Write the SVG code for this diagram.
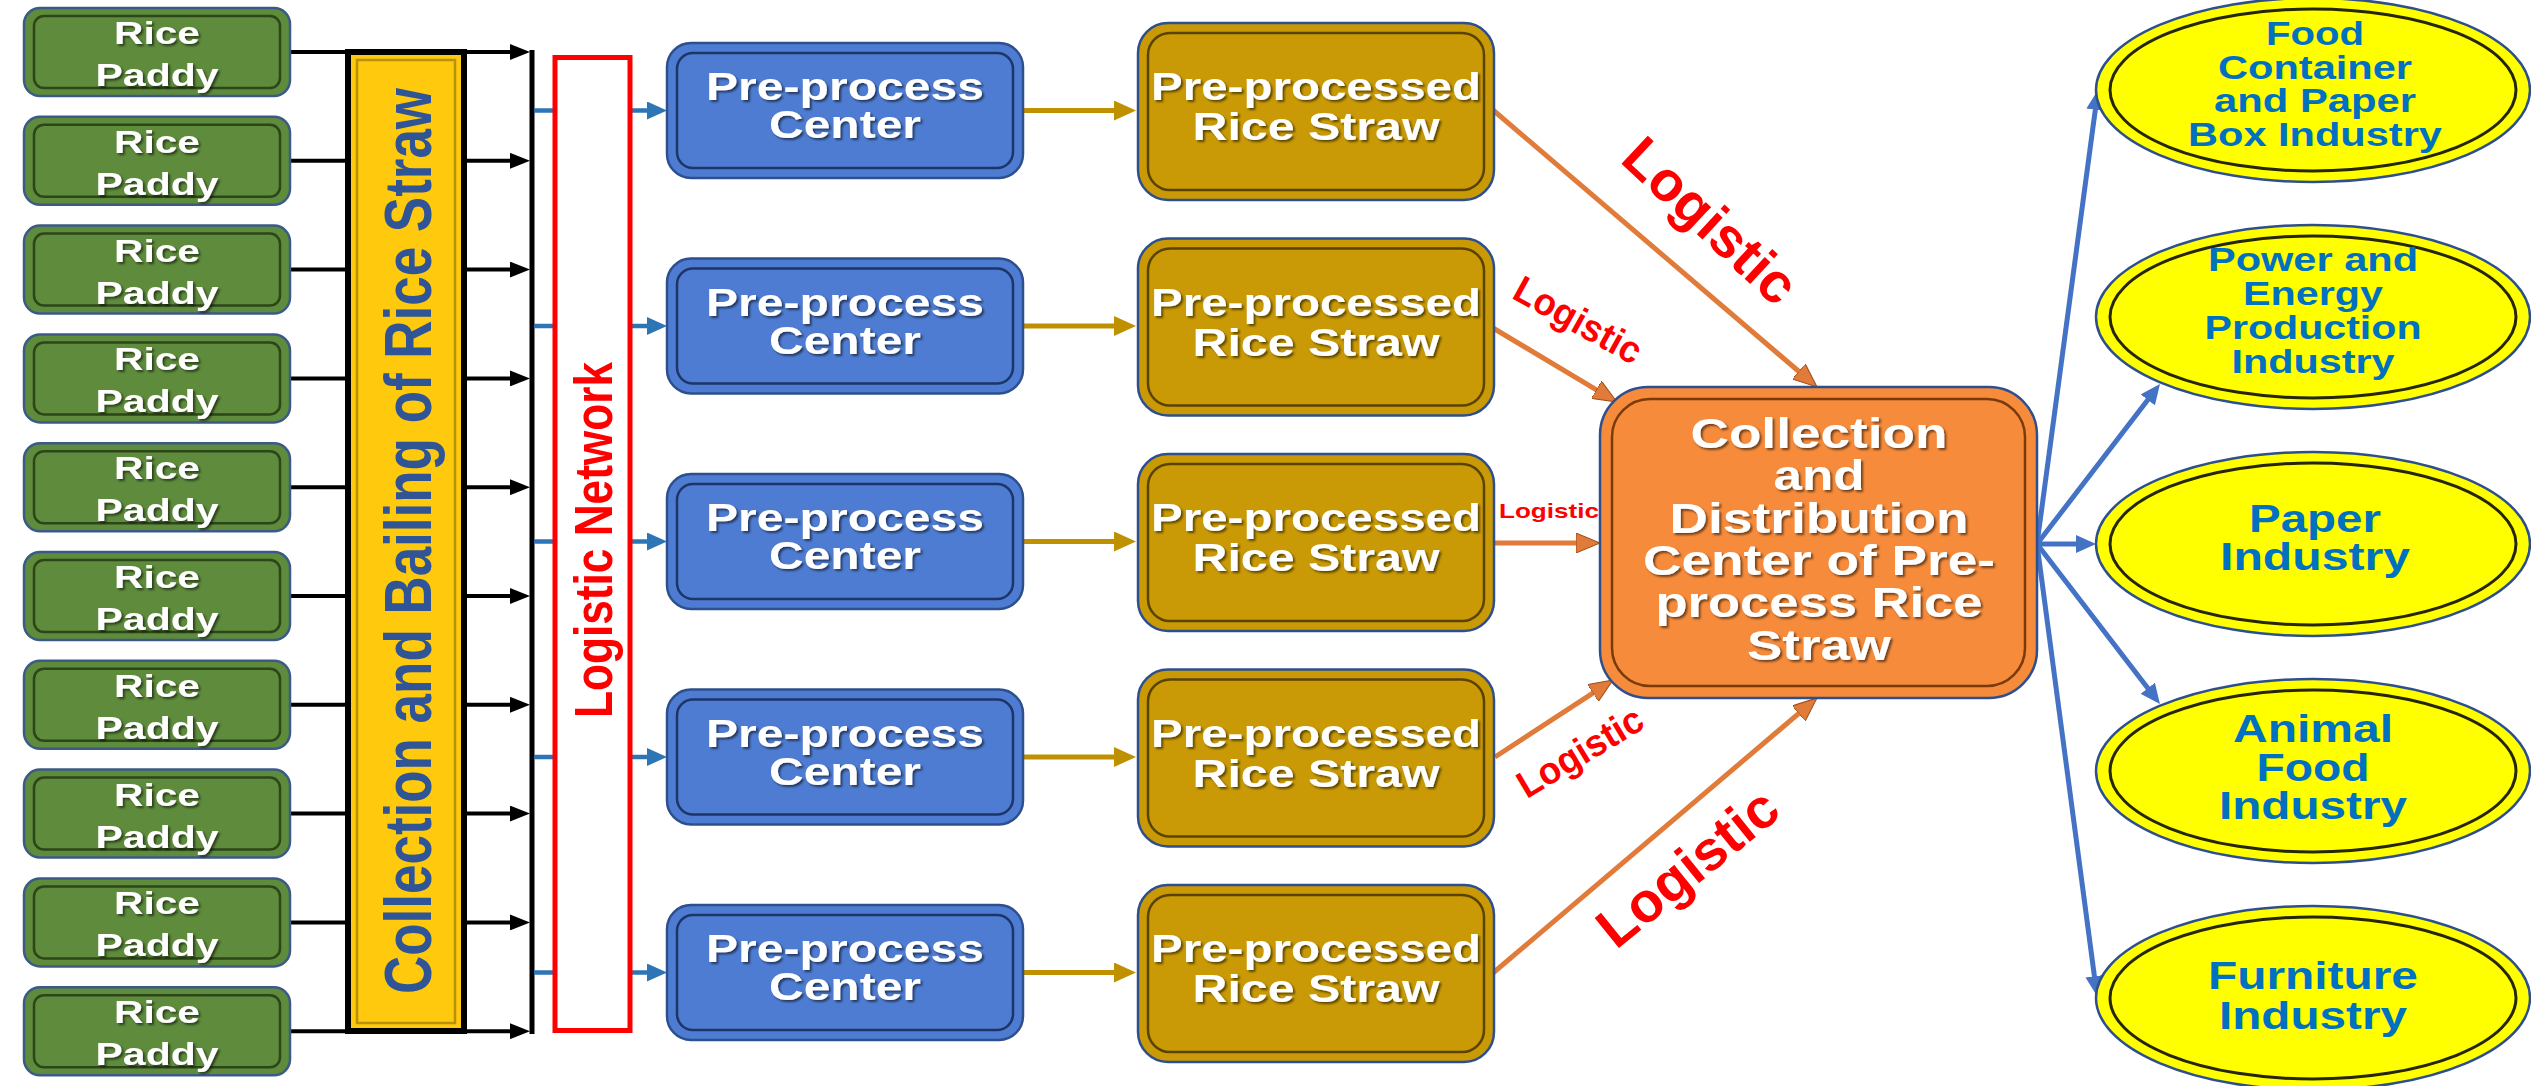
<svg xmlns="http://www.w3.org/2000/svg" width="2531" height="1086" viewBox="0 0 2531 1086">
<defs>
<style>
text{font-family:"Liberation Sans",Arial,sans-serif;font-weight:bold;text-anchor:middle}
.wt{fill:#fff;filter:url(#sh)}
.rp{fill:#5E8B3C;stroke:#3C5A88;stroke-width:2.5}
.rpi{fill:none;stroke:#2C4619;stroke-width:2.5}
.pc{fill:#4E7CD2;stroke:#2D4F8E;stroke-width:2.5}
.pci{fill:none;stroke:#1E3568;stroke-width:2.5}
.ps{fill:#C99A06;stroke:#2D4F8E;stroke-width:2.5}
.psi{fill:none;stroke:#5A4300;stroke-width:2.5}
.oc{fill:#F68B3B;stroke:#2D4F8E;stroke-width:2.5}
.oci{fill:none;stroke:#7A3A0A;stroke-width:2.5}
.el{fill:#FFFF00;stroke:#2D4F8E;stroke-width:2.5}
.eli{fill:none;stroke:#262600;stroke-width:3}
.elt{fill:#0070C0}
.lg{fill:#FF0000}
.blk{stroke:#000;stroke-width:4;fill:none}
.bl1{stroke:#2E75B6;stroke-width:4.5;fill:none}
.gd{stroke:#BF9000;stroke-width:5;fill:none}
.or{stroke:#E07B39;stroke-width:5;fill:none}
.bl2{stroke:#4472C4;stroke-width:5;fill:none}
</style>
<filter id="sh" x="-10%" y="-30%" width="125%" height="160%"><feDropShadow dx="2" dy="2" stdDeviation="1.2" flood-color="#000" flood-opacity="0.55"/></filter>
<marker id="mBlk" markerUnits="userSpaceOnUse" markerWidth="20" markerHeight="16" refX="3" refY="8" orient="auto"><path d="M0,0 L20,8 L0,16 z" fill="#000"/></marker>
<marker id="mBl1" markerUnits="userSpaceOnUse" markerWidth="20" markerHeight="18" refX="3" refY="9" orient="auto"><path d="M0,0 L20,9 L0,18 z" fill="#2E75B6"/></marker>
<marker id="mGd" markerUnits="userSpaceOnUse" markerWidth="22" markerHeight="20" refX="4" refY="10" orient="auto"><path d="M0,0 L22,10 L0,20 z" fill="#BF9000"/></marker>
<marker id="mOr" markerUnits="userSpaceOnUse" markerWidth="24" markerHeight="20" refX="4" refY="10" orient="auto"><path d="M0,0 L24,10 L0,20 z" fill="#E07B39" stroke="#9A4C1A" stroke-width="1"/></marker>
<marker id="mBl2" markerUnits="userSpaceOnUse" markerWidth="20" markerHeight="18" refX="3" refY="9" orient="auto"><path d="M0,0 L20,9 L0,18 z" fill="#4472C4"/></marker>
</defs>
<rect width="2531" height="1086" fill="#fff"/>

<g id="connectors">
<g id="paddy-links">
<path class="blk" d="M290,52H348M290,160.8H348M290,269.6H348M290,378.4H348M290,487.2H348M290,596H348M290,704.8H348M290,813.6H348M290,922.4H348M290,1031.2H348"/>
<line class="blk" x1="464" y1="52" x2="513" y2="52" marker-end="url(#mBlk)"/>
<line class="blk" x1="464" y1="160.8" x2="513" y2="160.8" marker-end="url(#mBlk)"/>
<line class="blk" x1="464" y1="269.6" x2="513" y2="269.6" marker-end="url(#mBlk)"/>
<line class="blk" x1="464" y1="378.4" x2="513" y2="378.4" marker-end="url(#mBlk)"/>
<line class="blk" x1="464" y1="487.2" x2="513" y2="487.2" marker-end="url(#mBlk)"/>
<line class="blk" x1="464" y1="596" x2="513" y2="596" marker-end="url(#mBlk)"/>
<line class="blk" x1="464" y1="704.8" x2="513" y2="704.8" marker-end="url(#mBlk)"/>
<line class="blk" x1="464" y1="813.6" x2="513" y2="813.6" marker-end="url(#mBlk)"/>
<line class="blk" x1="464" y1="922.4" x2="513" y2="922.4" marker-end="url(#mBlk)"/>
<line class="blk" x1="464" y1="1031.2" x2="513" y2="1031.2" marker-end="url(#mBlk)"/>
<line x1="532" y1="50" x2="532" y2="1034" stroke="#000" stroke-width="5"/>
</g>
<g id="network-links">
<path class="bl1" d="M534,110.5H556M534,326H556M534,541.5H556M534,757H556M534,972.5H556"/>
<line class="bl1" x1="630" y1="110.5" x2="650" y2="110.5" marker-end="url(#mBl1)"/>
<line class="bl1" x1="630" y1="326" x2="650" y2="326" marker-end="url(#mBl1)"/>
<line class="bl1" x1="630" y1="541.5" x2="650" y2="541.5" marker-end="url(#mBl1)"/>
<line class="bl1" x1="630" y1="757" x2="650" y2="757" marker-end="url(#mBl1)"/>
<line class="bl1" x1="630" y1="972.5" x2="650" y2="972.5" marker-end="url(#mBl1)"/>
</g>
<g id="center-links">
<line class="gd" x1="1023" y1="110.5" x2="1118" y2="110.5" marker-end="url(#mGd)"/>
<line class="gd" x1="1023" y1="326" x2="1118" y2="326" marker-end="url(#mGd)"/>
<line class="gd" x1="1023" y1="541.5" x2="1118" y2="541.5" marker-end="url(#mGd)"/>
<line class="gd" x1="1023" y1="757" x2="1118" y2="757" marker-end="url(#mGd)"/>
<line class="gd" x1="1023" y1="972.5" x2="1118" y2="972.5" marker-end="url(#mGd)"/>
</g>
<g id="logistic-links">
<line class="or" x1="1493" y1="110" x2="1801.8" y2="374" marker-end="url(#mOr)"/>
<line class="or" x1="1493" y1="328" x2="1599.8" y2="391.8" marker-end="url(#mOr)"/>
<line class="or" x1="1494" y1="543" x2="1580" y2="543" marker-end="url(#mOr)"/>
<line class="or" x1="1495" y1="757" x2="1596.3" y2="690.9" marker-end="url(#mOr)"/>
<line class="or" x1="1493" y1="973" x2="1801.8" y2="710.9" marker-end="url(#mOr)"/>
<text class="lg" transform="translate(1711,220) rotate(43)" y="20" font-size="56" textLength="215" lengthAdjust="spacingAndGlyphs">Logistic</text>
<text class="lg" transform="translate(1578,320) rotate(29)" y="13" font-size="38" textLength="140" lengthAdjust="spacingAndGlyphs">Logistic</text>
<text class="lg" x="1549" y="518" font-size="21" textLength="100" lengthAdjust="spacingAndGlyphs">Logistic</text>
<text class="lg" transform="translate(1580,752) rotate(-31)" y="13" font-size="38" textLength="140" lengthAdjust="spacingAndGlyphs">Logistic</text>
<text class="lg" transform="translate(1687,867) rotate(-39)" y="20" font-size="56" textLength="215" lengthAdjust="spacingAndGlyphs">Logistic</text>
</g>
<g id="industry-links">
<line class="bl2" x1="2037" y1="544" x2="2095.7" y2="106.8" marker-end="url(#mBl2)"/>
<line class="bl2" x1="2037" y1="544" x2="2149.6" y2="397.5" marker-end="url(#mBl2)"/>
<line class="bl2" x1="2037" y1="544" x2="2079" y2="544" marker-end="url(#mBl2)"/>
<line class="bl2" x1="2037" y1="544" x2="2149.6" y2="690.6" marker-end="url(#mBl2)"/>
<line class="bl2" x1="2037" y1="544" x2="2094.8" y2="979.2" marker-end="url(#mBl2)"/>
</g>
</g>

<g id="rice-paddy-1"><rect class="rp" x="24" y="8" width="266" height="88" rx="16"/><rect class="rpi" x="34" y="16" width="246" height="72" rx="10"/><text class="wt" x="157" y="44" font-size="31" textLength="86" lengthAdjust="spacingAndGlyphs">Rice</text><text class="wt" x="157" y="86" font-size="31" textLength="123" lengthAdjust="spacingAndGlyphs">Paddy</text></g>
<g id="rice-paddy-2"><rect class="rp" x="24" y="116.8" width="266" height="88" rx="16"/><rect class="rpi" x="34" y="124.8" width="246" height="72" rx="10"/><text class="wt" x="157" y="152.8" font-size="31" textLength="86" lengthAdjust="spacingAndGlyphs">Rice</text><text class="wt" x="157" y="194.8" font-size="31" textLength="123" lengthAdjust="spacingAndGlyphs">Paddy</text></g>
<g id="rice-paddy-3"><rect class="rp" x="24" y="225.6" width="266" height="88" rx="16"/><rect class="rpi" x="34" y="233.6" width="246" height="72" rx="10"/><text class="wt" x="157" y="261.6" font-size="31" textLength="86" lengthAdjust="spacingAndGlyphs">Rice</text><text class="wt" x="157" y="303.6" font-size="31" textLength="123" lengthAdjust="spacingAndGlyphs">Paddy</text></g>
<g id="rice-paddy-4"><rect class="rp" x="24" y="334.4" width="266" height="88" rx="16"/><rect class="rpi" x="34" y="342.4" width="246" height="72" rx="10"/><text class="wt" x="157" y="370.4" font-size="31" textLength="86" lengthAdjust="spacingAndGlyphs">Rice</text><text class="wt" x="157" y="412.4" font-size="31" textLength="123" lengthAdjust="spacingAndGlyphs">Paddy</text></g>
<g id="rice-paddy-5"><rect class="rp" x="24" y="443.2" width="266" height="88" rx="16"/><rect class="rpi" x="34" y="451.2" width="246" height="72" rx="10"/><text class="wt" x="157" y="479.2" font-size="31" textLength="86" lengthAdjust="spacingAndGlyphs">Rice</text><text class="wt" x="157" y="521.2" font-size="31" textLength="123" lengthAdjust="spacingAndGlyphs">Paddy</text></g>
<g id="rice-paddy-6"><rect class="rp" x="24" y="552" width="266" height="88" rx="16"/><rect class="rpi" x="34" y="560" width="246" height="72" rx="10"/><text class="wt" x="157" y="588" font-size="31" textLength="86" lengthAdjust="spacingAndGlyphs">Rice</text><text class="wt" x="157" y="630" font-size="31" textLength="123" lengthAdjust="spacingAndGlyphs">Paddy</text></g>
<g id="rice-paddy-7"><rect class="rp" x="24" y="660.8" width="266" height="88" rx="16"/><rect class="rpi" x="34" y="668.8" width="246" height="72" rx="10"/><text class="wt" x="157" y="696.8" font-size="31" textLength="86" lengthAdjust="spacingAndGlyphs">Rice</text><text class="wt" x="157" y="738.8" font-size="31" textLength="123" lengthAdjust="spacingAndGlyphs">Paddy</text></g>
<g id="rice-paddy-8"><rect class="rp" x="24" y="769.6" width="266" height="88" rx="16"/><rect class="rpi" x="34" y="777.6" width="246" height="72" rx="10"/><text class="wt" x="157" y="805.6" font-size="31" textLength="86" lengthAdjust="spacingAndGlyphs">Rice</text><text class="wt" x="157" y="847.6" font-size="31" textLength="123" lengthAdjust="spacingAndGlyphs">Paddy</text></g>
<g id="rice-paddy-9"><rect class="rp" x="24" y="878.4" width="266" height="88" rx="16"/><rect class="rpi" x="34" y="886.4" width="246" height="72" rx="10"/><text class="wt" x="157" y="914.4" font-size="31" textLength="86" lengthAdjust="spacingAndGlyphs">Rice</text><text class="wt" x="157" y="956.4" font-size="31" textLength="123" lengthAdjust="spacingAndGlyphs">Paddy</text></g>
<g id="rice-paddy-10"><rect class="rp" x="24" y="987.2" width="266" height="88" rx="16"/><rect class="rpi" x="34" y="995.2" width="246" height="72" rx="10"/><text class="wt" x="157" y="1023.2" font-size="31" textLength="86" lengthAdjust="spacingAndGlyphs">Rice</text><text class="wt" x="157" y="1065.2" font-size="31" textLength="123" lengthAdjust="spacingAndGlyphs">Paddy</text></g>

<g id="collection-bailing">
<rect x="348" y="52" width="116" height="979" fill="#FFC90E" stroke="#000" stroke-width="6"/>
<rect x="357" y="60" width="98" height="963" fill="none" stroke="#B8900A" stroke-width="2.5"/>
<text transform="translate(431,541) rotate(-90) scale(1,1.245)" font-size="53" textLength="906" lengthAdjust="spacingAndGlyphs" fill="#2F5597">Collection and Bailing of Rice Straw</text>
</g>

<g id="logistic-network">
<rect x="555" y="57.5" width="75" height="973" fill="#fff" stroke="#FF0000" stroke-width="5"/>
<text class="lg" transform="translate(612,540) rotate(-90) scale(1,1.2)" font-size="44" textLength="356" lengthAdjust="spacingAndGlyphs">Logistic Network</text>
</g>

<g id="preprocess-center-1"><rect class="pc" x="667" y="43" width="356" height="135" rx="24"/><rect class="pci" x="677" y="53" width="336" height="115" rx="16"/><text class="wt" x="845" y="100" font-size="38" textLength="278" lengthAdjust="spacingAndGlyphs">Pre-process</text><text class="wt" x="845" y="138" font-size="38" textLength="152" lengthAdjust="spacingAndGlyphs">Center</text></g>
<g id="preprocess-center-2"><rect class="pc" x="667" y="258.5" width="356" height="135" rx="24"/><rect class="pci" x="677" y="268.5" width="336" height="115" rx="16"/><text class="wt" x="845" y="315.5" font-size="38" textLength="278" lengthAdjust="spacingAndGlyphs">Pre-process</text><text class="wt" x="845" y="353.5" font-size="38" textLength="152" lengthAdjust="spacingAndGlyphs">Center</text></g>
<g id="preprocess-center-3"><rect class="pc" x="667" y="474" width="356" height="135" rx="24"/><rect class="pci" x="677" y="484" width="336" height="115" rx="16"/><text class="wt" x="845" y="531" font-size="38" textLength="278" lengthAdjust="spacingAndGlyphs">Pre-process</text><text class="wt" x="845" y="569" font-size="38" textLength="152" lengthAdjust="spacingAndGlyphs">Center</text></g>
<g id="preprocess-center-4"><rect class="pc" x="667" y="689.5" width="356" height="135" rx="24"/><rect class="pci" x="677" y="699.5" width="336" height="115" rx="16"/><text class="wt" x="845" y="746.5" font-size="38" textLength="278" lengthAdjust="spacingAndGlyphs">Pre-process</text><text class="wt" x="845" y="784.5" font-size="38" textLength="152" lengthAdjust="spacingAndGlyphs">Center</text></g>
<g id="preprocess-center-5"><rect class="pc" x="667" y="905" width="356" height="135" rx="24"/><rect class="pci" x="677" y="915" width="336" height="115" rx="16"/><text class="wt" x="845" y="962" font-size="38" textLength="278" lengthAdjust="spacingAndGlyphs">Pre-process</text><text class="wt" x="845" y="1000" font-size="38" textLength="152" lengthAdjust="spacingAndGlyphs">Center</text></g>

<g id="preprocessed-straw-1"><rect class="ps" x="1138" y="23" width="356" height="177" rx="30"/><rect class="psi" x="1148" y="33" width="336" height="157" rx="22"/><text class="wt" x="1316" y="100" font-size="38" textLength="330" lengthAdjust="spacingAndGlyphs">Pre-processed</text><text class="wt" x="1316" y="140" font-size="38" textLength="247" lengthAdjust="spacingAndGlyphs">Rice Straw</text></g>
<g id="preprocessed-straw-2"><rect class="ps" x="1138" y="238.5" width="356" height="177" rx="30"/><rect class="psi" x="1148" y="248.5" width="336" height="157" rx="22"/><text class="wt" x="1316" y="315.5" font-size="38" textLength="330" lengthAdjust="spacingAndGlyphs">Pre-processed</text><text class="wt" x="1316" y="355.5" font-size="38" textLength="247" lengthAdjust="spacingAndGlyphs">Rice Straw</text></g>
<g id="preprocessed-straw-3"><rect class="ps" x="1138" y="454" width="356" height="177" rx="30"/><rect class="psi" x="1148" y="464" width="336" height="157" rx="22"/><text class="wt" x="1316" y="531" font-size="38" textLength="330" lengthAdjust="spacingAndGlyphs">Pre-processed</text><text class="wt" x="1316" y="571" font-size="38" textLength="247" lengthAdjust="spacingAndGlyphs">Rice Straw</text></g>
<g id="preprocessed-straw-4"><rect class="ps" x="1138" y="669.5" width="356" height="177" rx="30"/><rect class="psi" x="1148" y="679.5" width="336" height="157" rx="22"/><text class="wt" x="1316" y="746.5" font-size="38" textLength="330" lengthAdjust="spacingAndGlyphs">Pre-processed</text><text class="wt" x="1316" y="786.5" font-size="38" textLength="247" lengthAdjust="spacingAndGlyphs">Rice Straw</text></g>
<g id="preprocessed-straw-5"><rect class="ps" x="1138" y="885" width="356" height="177" rx="30"/><rect class="psi" x="1148" y="895" width="336" height="157" rx="22"/><text class="wt" x="1316" y="962" font-size="38" textLength="330" lengthAdjust="spacingAndGlyphs">Pre-processed</text><text class="wt" x="1316" y="1002" font-size="38" textLength="247" lengthAdjust="spacingAndGlyphs">Rice Straw</text></g>

<g id="distribution-center">
<rect class="oc" x="1600" y="387" width="437" height="311" rx="48"/>
<rect class="oci" x="1612" y="399" width="413" height="287" rx="38"/>
<text class="wt" x="1819" y="448" font-size="42" textLength="257" lengthAdjust="spacingAndGlyphs">Collection</text>
<text class="wt" x="1819" y="490" font-size="42" textLength="91" lengthAdjust="spacingAndGlyphs">and</text>
<text class="wt" x="1819" y="532.5" font-size="42" textLength="299" lengthAdjust="spacingAndGlyphs">Distribution</text>
<text class="wt" x="1819" y="574.5" font-size="42" textLength="352" lengthAdjust="spacingAndGlyphs">Center of Pre-</text>
<text class="wt" x="1819" y="617" font-size="42" textLength="327" lengthAdjust="spacingAndGlyphs">process Rice</text>
<text class="wt" x="1819" y="660" font-size="42" textLength="144" lengthAdjust="spacingAndGlyphs">Straw</text>
</g>

<g id="food-container-industry"><ellipse class="el" cx="2313" cy="90" rx="217" ry="92"/><ellipse class="eli" cx="2313" cy="90" rx="203" ry="81"/><text class="elt" x="2315" y="45" font-size="33" textLength="98" lengthAdjust="spacingAndGlyphs">Food</text><text class="elt" x="2315" y="79" font-size="33" textLength="194" lengthAdjust="spacingAndGlyphs">Container</text><text class="elt" x="2315" y="112" font-size="33" textLength="202" lengthAdjust="spacingAndGlyphs">and Paper</text><text class="elt" x="2315" y="146" font-size="33" textLength="254" lengthAdjust="spacingAndGlyphs">Box Industry</text></g>
<g id="power-energy-industry"><ellipse class="el" cx="2313" cy="317" rx="217" ry="92"/><ellipse class="eli" cx="2313" cy="317" rx="203" ry="81"/><text class="elt" x="2313" y="271" font-size="33" textLength="210" lengthAdjust="spacingAndGlyphs">Power and</text><text class="elt" x="2313" y="305" font-size="33" textLength="140" lengthAdjust="spacingAndGlyphs">Energy</text><text class="elt" x="2313" y="339" font-size="33" textLength="217" lengthAdjust="spacingAndGlyphs">Production</text><text class="elt" x="2313" y="373" font-size="33" textLength="163" lengthAdjust="spacingAndGlyphs">Industry</text></g>
<g id="paper-industry"><ellipse class="el" cx="2313" cy="544" rx="217" ry="92"/><ellipse class="eli" cx="2313" cy="544" rx="203" ry="81"/><text class="elt" x="2315" y="532" font-size="38" textLength="132" lengthAdjust="spacingAndGlyphs">Paper</text><text class="elt" x="2315" y="570" font-size="38" textLength="190" lengthAdjust="spacingAndGlyphs">Industry</text></g>
<g id="animal-food-industry"><ellipse class="el" cx="2313" cy="771" rx="217" ry="92"/><ellipse class="eli" cx="2313" cy="771" rx="203" ry="81"/><text class="elt" x="2313" y="742" font-size="38" textLength="160" lengthAdjust="spacingAndGlyphs">Animal</text><text class="elt" x="2313" y="781" font-size="38" textLength="113" lengthAdjust="spacingAndGlyphs">Food</text><text class="elt" x="2313" y="819" font-size="38" textLength="188" lengthAdjust="spacingAndGlyphs">Industry</text></g>
<g id="furniture-industry"><ellipse class="el" cx="2313" cy="998" rx="217" ry="92"/><ellipse class="eli" cx="2313" cy="998" rx="203" ry="81"/><text class="elt" x="2313" y="989" font-size="38" textLength="210" lengthAdjust="spacingAndGlyphs">Furniture</text><text class="elt" x="2313" y="1029" font-size="38" textLength="188" lengthAdjust="spacingAndGlyphs">Industry</text></g>
</svg>
